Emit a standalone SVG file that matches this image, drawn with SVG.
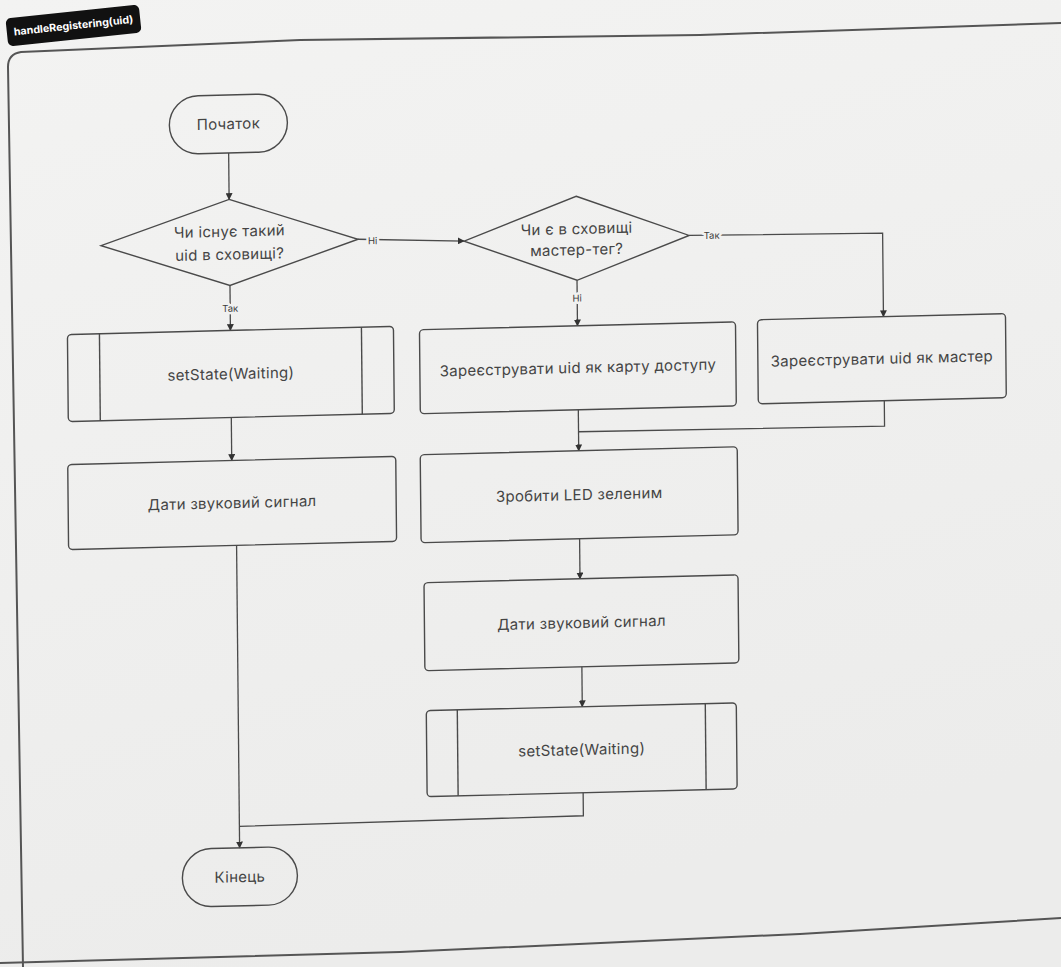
<svg xmlns="http://www.w3.org/2000/svg" width="1061" height="967" viewBox="0 0 1061 967">
  <defs>
    <linearGradient id="paper" x1="0" y1="0" x2="0.3" y2="1">
      <stop offset="0" stop-color="#f3f3f2"/>
      <stop offset="1" stop-color="#ececeb"/>
    </linearGradient>
    <marker id="arrow" viewBox="0 0 10 10" refX="9" refY="5" markerWidth="7" markerHeight="7" markerUnits="userSpaceOnUse" orient="auto">
      <path d="M0,0 L10,5 L0,10 z" fill="#333"/>
    </marker>
    <style>
      .shape { fill: none; stroke: #4a4a4a; stroke-width: 1.4; }
      .bar { stroke: #4a4a4a; stroke-width: 1.4; }
      .label { font-family: Inter, "Noto Sans", "DejaVu Sans", sans-serif; font-size: 15px; letter-spacing: 0.3px; fill: #444; text-anchor: middle; }
      .edge { fill: none; stroke: #4a4a4a; stroke-width: 1.3; }
      .edge-label { font-family: Inter, "Noto Sans", "DejaVu Sans", sans-serif; font-size: 9.5px; fill: #3b3b3b; text-anchor: middle; stroke: #f1f1f0; stroke-width: 5; paint-order: stroke; stroke-linejoin: round; }
      .frame { fill: none; stroke: #555; stroke-width: 2; stroke-linejoin: round; }
    </style>
  </defs>

  <!-- page -->
  <rect width="1061" height="967" fill="url(#paper)"/>

  <!-- function badge -->
  <g id="title" transform="rotate(-6 73.5 25.5)">
    <rect x="6.5" y="11.5" width="134" height="28" rx="5" fill="#111"/>
    <text x="73.5" y="25.5" dy="0.35em" text-anchor="middle" font-family="Inter, 'Noto Sans', sans-serif" font-size="10.5" font-weight="700" fill="#fff" textLength="120" lengthAdjust="spacingAndGlyphs">handleRegistering(uid)</text>
  </g>

  <!-- frame around the flow -->
  <g id="frame">
    <path class="frame" d="M23 967 L8 67 Q8 54 21 52 L300 40 L700 35 L1061 23"/>
    <path class="frame" d="M0 963 L400 952 L800 934 L1061 918"/>
  </g>

  <g id="flow" transform="matrix(1 -0.025 0.01 1 -4.8 13.25)">
    <!-- connectors -->
    <g id="connectors">
      <path class="edge" d="M232 145.5 L232 192" marker-end="url(#arrow)"/>
      <path class="edge" d="M232 278 L232 323" marker-end="url(#arrow)"/>
      <text class="edge-label" x="232" y="301" dy="0.35em">Так</text>
      <path class="edge" d="M360.5 235 L466.5 239.5" marker-end="url(#arrow)"/>
      <text class="edge-label" x="375" y="237" dy="0.35em">Ні</text>
      <path class="edge" d="M691.5 239.5 L885 242 L885 325.5" marker-end="url(#arrow)"/>
      <text class="edge-label" x="714" y="240" dy="0.35em">Так</text>
      <path class="edge" d="M579 281.5 L579 327" marker-end="url(#arrow)"/>
      <text class="edge-label" x="579" y="299.5" dy="0.35em">Ні</text>
      <path class="edge" d="M579 411 L579 452" marker-end="url(#arrow)"/>
      <path class="edge" d="M885 409.5 L885 435 L579 433"/>
      <path class="edge" d="M579 540 L579 580" marker-end="url(#arrow)"/>
      <path class="edge" d="M580 668 L580 708" marker-end="url(#arrow)"/>
      <path class="edge" d="M580 794 L580 817 L236 819"/>
      <path class="edge" d="M232 410 L232 453" marker-end="url(#arrow)"/>
      <path class="edge" d="M236 538 L236 840.5" marker-end="url(#arrow)"/>
    </g>

    <!-- nodes -->
    <g id="start">
      <rect class="shape" x="173" y="87.5" width="118" height="58" rx="29"/>
      <text class="label" x="232" y="116.5" dy="0.35em">Початок</text>
    </g>

    <g id="check-uid">
      <polygon class="shape" points="232,192 360.5,235 232,278 103.5,235"/>
      <text class="label" x="232" y="224" dy="0.35em">Чи існує такий</text>
      <text class="label" x="232" y="247" dy="0.35em">uid в сховищі?</text>
    </g>

    <g id="check-master">
      <polygon class="shape" points="579,197.5 691.5,239.5 579,281.5 466.5,239.5"/>
      <text class="label" x="579" y="230" dy="0.35em">Чи є в сховищі</text>
      <text class="label" x="579" y="251" dy="0.35em">мастер-тег?</text>
    </g>

    <g id="set-waiting-1">
      <rect class="shape" x="69" y="323" width="326" height="87" rx="4"/>
      <line class="bar" x1="101" y1="323" x2="101" y2="410"/>
      <line class="bar" x1="363" y1="323" x2="363" y2="410"/>
      <text class="label" x="232" y="366.5" dy="0.35em">setState(Waiting)</text>
    </g>

    <g id="beep-1">
      <rect class="shape" x="68" y="453" width="328" height="85" rx="4"/>
      <text class="label" x="232" y="495.5" dy="0.35em">Дати звуковий сигнал</text>
    </g>

    <g id="register-access">
      <rect class="shape" x="421" y="327" width="316" height="84" rx="4"/>
      <text class="label" x="579" y="369" dy="0.35em">Зареєструвати uid як карту доступу</text>
    </g>

    <g id="register-master">
      <rect class="shape" x="759" y="325.5" width="248" height="84" rx="4"/>
      <text class="label" x="883" y="367.5" dy="0.35em">Зареєструвати uid як мастер</text>
    </g>

    <g id="led-green">
      <rect class="shape" x="420.5" y="452" width="317" height="88" rx="4"/>
      <text class="label" x="579" y="496" dy="0.35em">Зробити LED зеленим</text>
    </g>

    <g id="beep-2">
      <rect class="shape" x="423" y="580" width="314" height="88" rx="4"/>
      <text class="label" x="580" y="624" dy="0.35em">Дати звуковий сигнал</text>
    </g>

    <g id="set-waiting-2">
      <rect class="shape" x="424" y="708" width="310" height="86" rx="4"/>
      <line class="bar" x1="455" y1="708" x2="455" y2="794"/>
      <line class="bar" x1="703" y1="708" x2="703" y2="794"/>
      <text class="label" x="579" y="751" dy="0.35em">setState(Waiting)</text>
    </g>

    <g id="end">
      <rect class="shape" x="178.5" y="840.5" width="115" height="58" rx="29"/>
      <text class="label" x="236" y="869.5" dy="0.35em">Кінець</text>
    </g>
  </g>
</svg>
